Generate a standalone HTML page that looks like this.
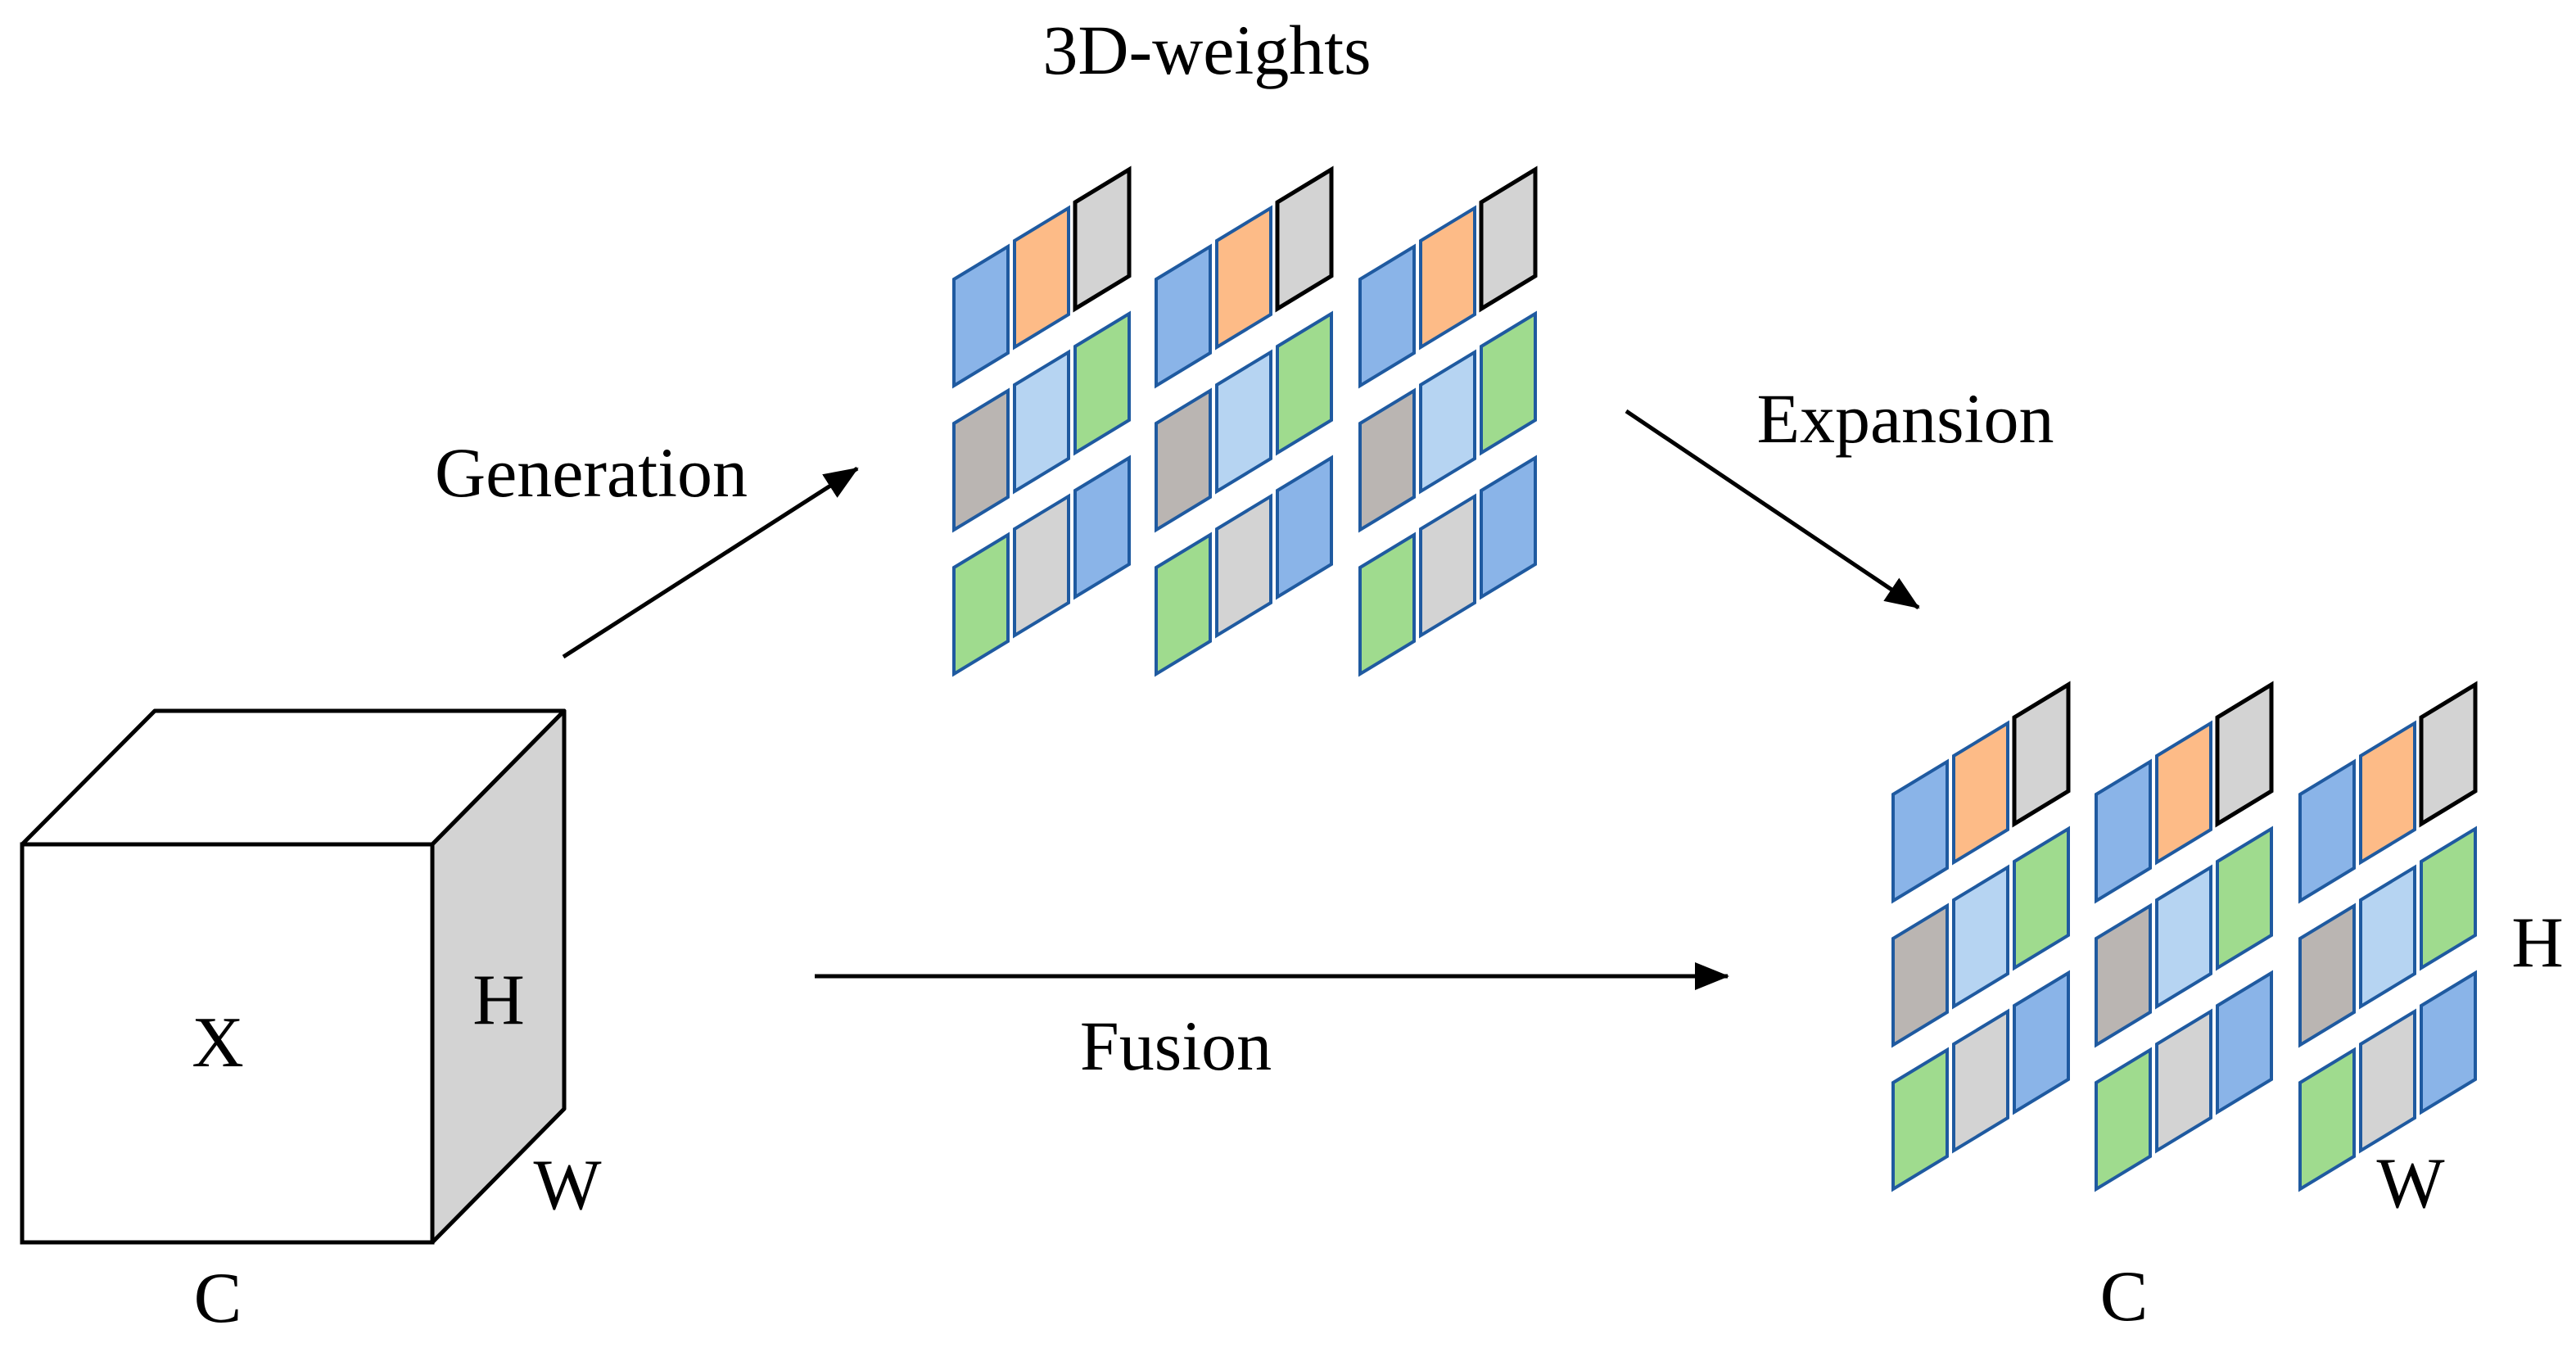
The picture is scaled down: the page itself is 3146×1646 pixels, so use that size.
<!DOCTYPE html>
<html><head><meta charset="utf-8"><style>
html,body{margin:0;padding:0;background:#fff;}
svg{display:block;}
text{font-family:"Liberation Serif",serif;fill:#000;}
</style></head><body>
<svg id="s" width="3146" height="1646" viewBox="0 0 3146 1646" xmlns="http://www.w3.org/2000/svg">
<defs>
<marker id="a2" markerWidth="42" markerHeight="34" refX="40" refY="17" orient="auto" markerUnits="userSpaceOnUse"><path d="M0,0 L42,17 L0,34 z" fill="#000"/></marker></defs>
<polygon points="189,868 689,868 528,1031 27,1031" fill="#fff" stroke="#000" stroke-width="5" stroke-linejoin="round"/>
<polygon points="528,1031 689,868 689,1354 528,1517" fill="#d3d3d3" stroke="#000" stroke-width="5" stroke-linejoin="round"/>
<rect x="27" y="1031" width="501" height="486" fill="#fff" stroke="#000" stroke-width="5"/>
<text x="266" y="1302" font-size="88" text-anchor="middle">X</text>
<text x="609" y="1250" font-size="88" text-anchor="middle">H</text>
<text x="693" y="1476" font-size="88" text-anchor="middle">W</text>
<text x="266" y="1614" font-size="88" text-anchor="middle">C</text>
<line x1="688" y1="802" x2="1047" y2="572" stroke="#000" stroke-width="5" marker-end="url(#a2)"/>
<line x1="1986" y1="502" x2="2343" y2="742" stroke="#000" stroke-width="5" marker-end="url(#a2)"/>
<line x1="995" y1="1192" x2="2110" y2="1192" stroke="#000" stroke-width="5" marker-end="url(#a2)"/>
<text x="1474" y="90" font-size="86" text-anchor="middle">3D-weights</text>
<text x="722" y="606" font-size="86" text-anchor="middle">Generation</text>
<text x="2327" y="540" font-size="86" text-anchor="middle">Expansion</text>
<text x="1436" y="1306" font-size="86" text-anchor="middle">Fusion</text>
<text x="3099" y="1180" font-size="88" text-anchor="middle">H</text>
<text x="2944" y="1474" font-size="88" text-anchor="middle">W</text>
<text x="2594" y="1612" font-size="88" text-anchor="middle">C</text>
<g id="g"></g>
</svg>
<script>
var B="#8ab4e8",O="#fdbb87",G="#d3d3d3",R="#bab5b2",L="#b6d4f2",N="#9fdb8e";
var grid=[[B,O,G],[R,L,N],[N,G,B]];
var out="";
function set(xs,y0){
 xs.forEach(function(x0){
  for(var r=0;r<3;r++)for(var c=0;c<3;c++){
   var x=x0+74*c, y=y0+176*r-47*c, w=66, h=130, s=40;
   var blk=(r==0&&c==2);
   out+='<polygon points="'+x+','+y+' '+(x+w)+','+(y-s)+' '+(x+w)+','+(y-s+h)+' '+x+','+(y+h)+'" fill="'+grid[r][c]+'" stroke="'+(blk?'#000':'#1f5aa0')+'" stroke-width="'+(blk?5:4)+'" stroke-linejoin="miter"/>';
  }
 });
}
set([1165,1412,1661],341);
set([2312,2560,2809],970);
document.getElementById("g").innerHTML=out;
</script>
</body></html>
